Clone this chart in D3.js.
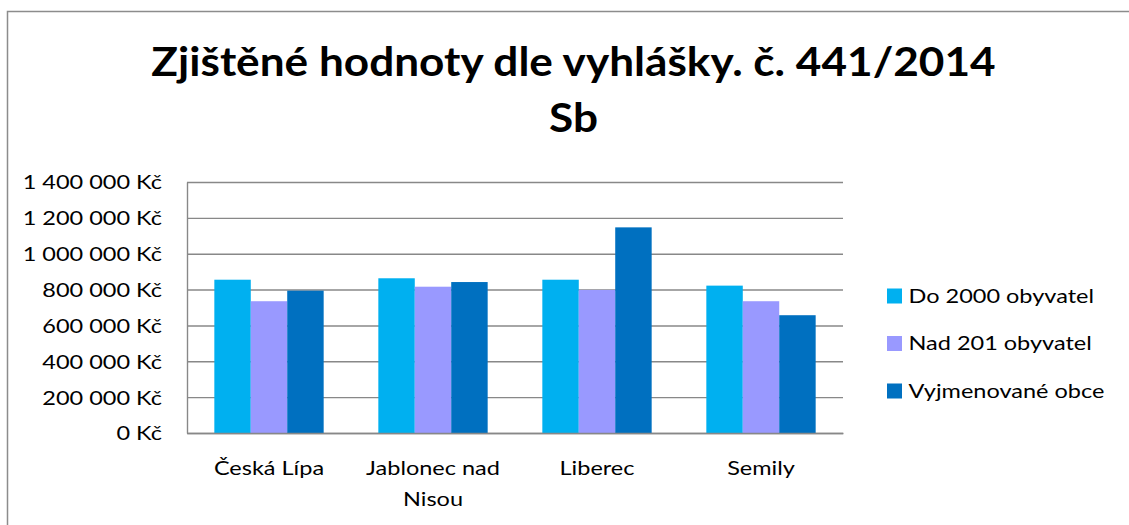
<!DOCTYPE html>
<html>
<head>
<meta charset="utf-8">
<script src="https://cdn.jsdelivr.net/npm/d3@7"></script>
<style>
  html, body { margin: 0; padding: 0; background: #fff; }
  svg { display: block; font-family: Lato, "Open Sans", sans-serif; }
</style>
</head>
<body>
<svg id="chart" width="1129" height="525"></svg>
<script>
// ---- data ----
const categories = ["Česká Lípa", "Jablonec nad Nisou", "Liberec", "Semily"];
const seriesNames = ["Do 2000 obyvatel", "Nad 201 obyvatel", "Vyjmenované obce"];
const do2000 = [855000, 863000, 855000, 822000];
const nad201 = [735000, 816000, 798000, 735000];
const vyjmenovane = [794000, 842000, 1147000, 657000];
const yTicks = [0, 200000, 400000, 600000, 800000, 1000000, 1200000, 1400000];
const titleLines = ["Zjištěné hodnoty dle vyhlášky. č. 441/2014", "Sb"];
const colors = ["#00B0F0", "#9999FF", "#0070C0"];

const seriesValues = [do2000, nad201, vyjmenovane];

// ---- layout ----
const W = 1129, H = 525;
const plot = { left: 187, right: 843, top: 182, bottom: 433 };
const SX = 1.25;          // horizontal stretch of glyphs as in the reference
const SX_TITLE = 1.09;
const fontSize = 18.8;
const gridColor = "#888888";

const svg = d3.select("#chart");

const czLocale = d3.formatLocale({ decimal: ",", thousands: " ", grouping: [3], currency: ["", " Kč"] });
const fmt = czLocale.format("$,.0f");

const x0 = d3.scaleBand().domain(categories).range([plot.left, plot.right]).paddingInner(1.5 / 4.5).paddingOuter(0.75 / 4.5);
const x1 = d3.scaleBand().domain(seriesNames).range([0, x0.bandwidth()]);
const y = d3.scaleLinear().domain([0, 1400000]).range([plot.bottom, plot.top]);

// chart frame (left and top edge)
svg.append("path")
  .attr("d", `M7.5,${H} V11.5 H${W}`)
  .attr("fill", "none").attr("stroke", "#8c8c8c").attr("stroke-width", 1.5);

// title
const title = svg.append("g").attr("font-weight", 700).attr("font-size", 40.5).attr("fill", "#000");
titleLines.forEach((t, i) => {
  title.append("text")
    .attr("transform", `translate(573.5,${76 + i * 56}) scale(${SX_TITLE},1)`)
    .attr("text-anchor", "middle")
    .text(t);
});

// gridlines
const grid = svg.append("g")
  .attr("transform", `translate(${plot.left},0)`)
  .call(d3.axisLeft(y).tickValues(yTicks).tickSize(-(plot.right - plot.left)).tickFormat(""));
grid.select(".domain").remove();
grid.selectAll("line").attr("stroke", gridColor).attr("stroke-width", 1.4);

// y axis labels + axis line
const yAxis = svg.append("g")
  .attr("transform", `translate(${plot.left},0)`)
  .call(d3.axisLeft(y).tickValues(yTicks).tickSize(0).tickFormat(fmt));
yAxis.select(".domain").attr("stroke", gridColor).attr("stroke-width", 1.4);
yAxis.selectAll("text")
  .attr("x", 0)
  .attr("dy", "0.37em")
  .attr("transform", `translate(-25,0) scale(${SX},1)`)
  .attr("font-size", fontSize)
  .attr("font-family", "Lato, sans-serif")
  .attr("fill", "#000");

// bars
const groups = svg.append("g").selectAll("g")
  .data(categories)
  .join("g")
  .attr("transform", d => `translate(${x0(d)},0)`);

groups.selectAll("rect")
  .data((d, i) => seriesNames.map((s, j) => ({ s, v: seriesValues[j][i], j })))
  .join("rect")
  .attr("x", d => x1(d.s))
  .attr("width", x1.bandwidth())
  .attr("y", d => y(d.v))
  .attr("height", d => y(0) - y(d.v))
  .attr("fill", d => colors[d.j]);

// x axis line
const xAxis = svg.append("g")
  .attr("transform", `translate(0,${plot.bottom})`)
  .call(d3.axisBottom(x0).tickSize(0).tickFormat(""));
xAxis.select(".domain").attr("stroke", gridColor).attr("stroke-width", 1.4);

// category labels (wrapped when wider than band)
const catG = svg.append("g").attr("font-size", fontSize).attr("fill", "#000");
const maxW = x0.step() * 0.92;
categories.forEach(c => {
  const words = c.split(" ");
  const lines = [];
  let cur = [];
  const probe = catG.append("text").attr("font-size", fontSize);
  words.forEach(w => {
    const test = cur.concat([w]).join(" ");
    probe.text(test);
    if (cur.length && probe.node().getComputedTextLength() * SX > maxW) {
      lines.push(cur.join(" "));
      cur = [w];
    } else {
      cur.push(w);
    }
  });
  lines.push(cur.join(" "));
  probe.remove();
  lines.forEach((ln, i) => {
    catG.append("text")
      .attr("text-anchor", "middle")
      .attr("transform", `translate(${x0(c) + x0.bandwidth() / 2},${475 + i * 31}) scale(${SX},1)`)
      .text(ln);
  });
});

// legend
const legend = svg.append("g").attr("font-size", fontSize);
seriesNames.forEach((s, i) => {
  const cy = 296 + i * 47.5;
  legend.append("rect")
    .attr("x", 887).attr("y", cy - 7.5)
    .attr("width", 15).attr("height", 15)
    .attr("fill", colors[i]);
  legend.append("text")
    .attr("transform", `translate(908.5,${cy + 6.7}) scale(${SX},1)`)
    .attr("fill", "#000")
    .text(s);
});
</script>
</body>
</html>
